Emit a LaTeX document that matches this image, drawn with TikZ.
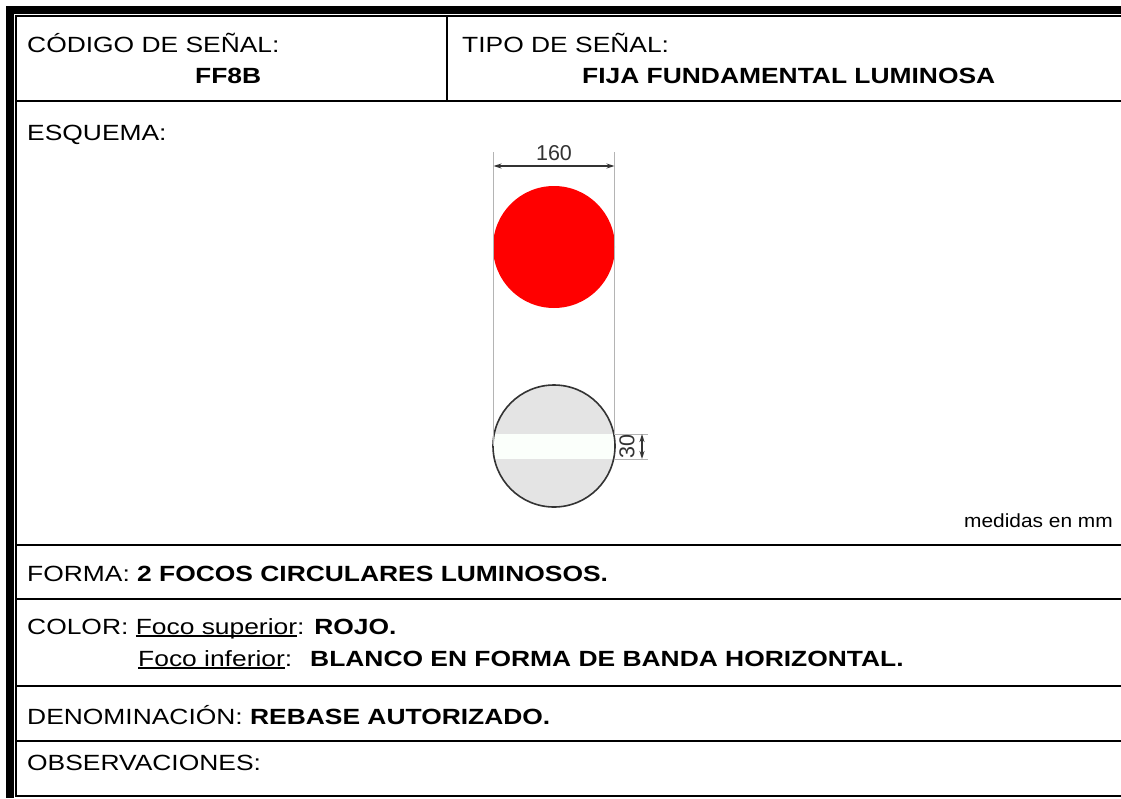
\documentclass[tikz,border=0pt]{standalone}
\usepackage{fontspec}
\setmainfont{Liberation Sans}
\newfontfamily\mainf{Liberation Sans}[FakeStretch=1.2]
\newfontfamily\smallf{Liberation Sans}[FakeStretch=1.1]
\newfontfamily\dimf{Liberation Sans}
\usetikzlibrary{arrows.meta}
\newsavebox\myulbox
\newcommand\myul[1]{\sbox\myulbox{#1}\rlap{\rule[-2.6pt]{\wd\myulbox}{1.5pt}}\usebox\myulbox}
\definecolor{dimgray}{HTML}{333333}
\definecolor{extgray}{HTML}{B4B4B4}
\definecolor{focusgray}{HTML}{E4E4E4}
\definecolor{bandwhite}{HTML}{FBFFFB}
\begin{document}
\begin{tikzpicture}[x=1pt,y=-1pt,
  txt/.style={anchor=base west, inner sep=0pt, font={\mainf\fontsize{22}{26}\selectfont}},
  rule/.style={line width=2pt, black},
  extline/.style={line width=1pt, extgray},
  dimline/.style={line width=1.3pt, dimgray, {Stealth[length=8pt,width=5pt]}-{Stealth[length=8pt,width=5pt]}},
  dimtxt/.style={inner sep=0pt, text=dimgray, font={\dimf\fontsize{21.5}{25}\selectfont}}]
\useasboundingbox (0,0) rectangle (1121,798);
\fill[white] (0,0) rectangle (1121,798);
% outer double border
\fill[black] (6,6) rectangle (1121,14);
\fill[black] (6,6) rectangle (14,798);
\draw[rule] (15,16) -- (1121,16);
\draw[rule] (16,15) -- (16,797);
% rows
\draw[rule] (16,101) -- (1121,101);
\draw[rule] (16,545) -- (1121,545);
\draw[rule] (16,599) -- (1121,599);
\draw[rule] (16,686) -- (1121,686);
\draw[rule] (16,741) -- (1121,741);
\draw[rule] (16,796) -- (1121,796);
\draw[rule] (447,17) -- (447,101);
% header texts
\node[txt] (cod) at (27,52) {CÓDIGO DE SEÑAL:};
\node[txt] (codv) at (195,83) {\textbf{FF8B}};
\node[txt] (tipo) at (462,52) {TIPO DE SEÑAL:};
\node[txt] (tipov) at (582,83) {\textbf{FIJA FUNDAMENTAL LUMINOSA}};
\node[txt] (esq) at (27,140) {ESQUEMA:};
% upper focus (red)
\fill[red] (554,247) circle (61);
\node[inner sep=0pt, minimum size=122pt, circle] (sup) at (554,247) {};
% lower focus
\begin{scope}
  \clip (554,446) circle (61);
  \fill[focusgray] (490,380) rectangle (620,512);
  \fill[bandwhite] (490,434) rectangle (620,459);
\end{scope}
\node[draw=dimgray, line width=1.6pt, circle, inner sep=0pt, minimum size=122pt] (inf) at (554,446) {};
% extension lines
\coordinate (e1t) at (493.5,152);
\coordinate (e1b) at (493.5,446);
\coordinate (e2t) at (614.5,152);
\coordinate (e2b) at (614.5,434);
\draw[extline] (e1t) -- (e1b);
\draw[extline] (e2t) -- (e2b);
\coordinate (b1l) at (614,434);
\coordinate (b1r) at (648,434);
\coordinate (b2l) at (614,459);
\coordinate (b2r) at (648,459);
\draw[extline] (b1l) -- (b1r);
\draw[extline] (b2l) -- (b2r);
% dimension 160
\coordinate (d1) at (493.5,166);
\coordinate (d2) at (614.5,166);
\draw[dimline] (d1) -- (d2);
\node[dimtxt, anchor=base] (t160) at (554,160) {160};
% dimension 30
\coordinate (d3) at (642,434);
\coordinate (d4) at (642,459);
\draw[dimline] (d3) -- (d4);
\node[dimtxt, rotate=90, anchor=center] (t30) at (627,446.5) {30};
\node[anchor=base east, inner sep=0pt, font={\smallf\fontsize{19}{22}\selectfont}] (med) at (1113,527) {medidas en mm};
% rows texts
\node[txt] (forma) at (27,581) {FORMA: \textbf{2 FOCOS CIRCULARES LUMINOSOS.}};
\node[txt] (color) at (27,634) {COLOR: \myul{Foco superior}: \textbf{ROJO.}};
\node[txt] (color2) at (138,666) {\myul{Foco inferior}:};
\node[txt] (color2v) at (310,666) {\textbf{BLANCO EN FORMA DE BANDA HORIZONTAL.}};
\node[txt] (den) at (27,724) {DENOMINACIÓN: \textbf{REBASE AUTORIZADO.}};
\node[txt] (obs) at (27,770) {OBSERVACIONES:};
\end{tikzpicture}
\end{document}
